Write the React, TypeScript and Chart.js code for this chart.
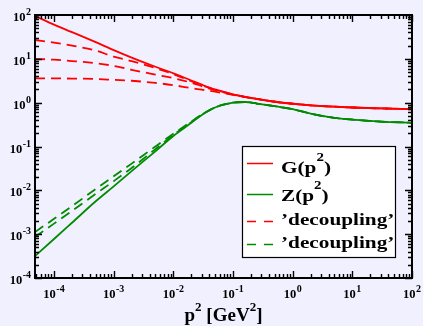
import React, { useEffect, useRef } from "react";
import { Chart, registerables } from "chart.js";

Chart.register(...registerables);

// momentum p^2 [GeV^2]
const P2 = [4.8e-5, 1e-4, 2e-4, 5e-4, 1e-3, 2e-3, 5e-3, 1e-2, 2e-2, 3e-2, 5e-2, 0.1, 0.16, 0.25, 0.5, 1, 2, 5, 10, 30, 100];

// ghost dressing function G(p^2), scaling solution
const G_SCALING = [95.5, 60.3, 40.7, 24.0, 15.8, 10.7, 6.6, 4.68, 3.2, 2.57, 2.0, 1.55, 1.35, 1.22, 1.05, 0.944, 0.87, 0.81, 0.776, 0.74, 0.708];
// gluon dressing function Z(p^2), scaling solution
const Z_SCALING = [3.16e-4, 7.76e-4, 1.82e-3, 5.62e-3, 1.23e-2, 2.75e-2, 7.76e-2, 0.174, 0.347, 0.525, 0.776, 1.0, 1.035, 0.955, 0.83, 0.71, 0.56, 0.45, 0.41, 0.37, 0.347];

// decoupling solutions, ghost
const G_DEC_1 = [26.9, 23.4, 20.0, 15.5, 11.2, 8.9, 6.17, 4.47, 3.09, 2.5, 1.98, 1.55, 1.35, 1.22, 1.05, 0.944, 0.87, 0.81, 0.776, 0.74, 0.708];
const G_DEC_2 = [10.0, 9.55, 8.91, 7.94, 6.92, 5.62, 4.37, 3.63, 2.85, 2.38, 1.92, 1.53, 1.35, 1.22, 1.05, 0.944, 0.87, 0.81, 0.776, 0.74, 0.708];
const G_DEC_3 = [3.6, 3.59, 3.55, 3.47, 3.31, 3.16, 2.82, 2.51, 2.14, 1.98, 1.78, 1.5, 1.33, 1.21, 1.05, 0.944, 0.87, 0.81, 0.776, 0.74, 0.708];
// decoupling solutions, gluon
const Z_DEC_1 = [1.12e-3, 2.24e-3, 4.37e-3, 1.07e-2, 2.09e-2, 4.07e-2, 0.1, 0.195, 0.37, 0.535, 0.78, 1.0, 1.035, 0.955, 0.83, 0.71, 0.56, 0.45, 0.41, 0.37, 0.347];
const Z_DEC_2 = [8.7e-4, 1.74e-3, 3.39e-3, 8.3e-3, 1.62e-2, 3.24e-2, 8.7e-2, 0.182, 0.36, 0.53, 0.778, 1.0, 1.035, 0.955, 0.83, 0.71, 0.56, 0.45, 0.41, 0.37, 0.347];

const X_TICKS = [1e-4, 1e-3, 1e-2, 1e-1, 1, 10, 100];
const X_TICK_EXP = ["-4", "-3", "-2", "-1", "0", "1", "2"];
const Y_TICKS = [1e-4, 1e-3, 1e-2, 1e-1, 1, 10, 100];
const Y_TICK_EXP = ["-4", "-3", "-2", "-1", "0", "1", "2"];

const LEGEND = [
  { base: "G(p", sup: "2", tail: ")", color: "#ff0000", dash: [] as number[] },
  { base: "Z(p", sup: "2", tail: ")", color: "#008b00", dash: [] as number[] },
  { base: "\u2019decoupling\u2019", sup: "", tail: "", color: "#ff0000", dash: [9, 8] },
  { base: "\u2019decoupling\u2019", sup: "", tail: "", color: "#008b00", dash: [9, 8] },
];

const BG = "#f0f0ff";
const RED = "#ff0000";
const GREEN = "#008b00";
const SERIF = "'Liberation Serif', 'Times New Roman', serif";

function powLabel(ctx: CanvasRenderingContext2D, exp: string, x: number, y: number, align: "right" | "center") {
  const fb = `bold 12.5px ${SERIF}`;
  const fe = `bold 10px ${SERIF}`;
  ctx.font = fb;
  const wb = ctx.measureText("10").width;
  ctx.font = fe;
  const we = ctx.measureText(exp).width;
  const total = wb + we + 0.5;
  const sx = align === "right" ? x - total : x - total / 2;
  ctx.textAlign = "left";
  ctx.textBaseline = "alphabetic";
  ctx.font = fb;
  ctx.fillText("10", sx, y);
  ctx.font = fe;
  ctx.fillText(exp, sx + wb + 0.5, y - 6);
}

const framePlugin = {
  id: "frameTicks",
  beforeDraw(chart: any) {
    const ctx = chart.ctx;
    ctx.save();
    ctx.fillStyle = BG;
    ctx.fillRect(0, 0, chart.width, chart.height);
    ctx.restore();
  },
  afterDatasetsDraw(chart: any) {
    const { ctx, chartArea: a } = chart;
    const xs = chart.scales.x;
    const ys = chart.scales.y;
    ctx.save();
    ctx.strokeStyle = "#000";
    ctx.fillStyle = "#000";
    ctx.lineWidth = 1.4;
    ctx.beginPath();
    const xDecades = [X_TICKS[0] / 10, ...X_TICKS];
    for (const base of xDecades) {
      for (let m = 1; m <= 9; m++) {
        const v = m * base;
        if (v < xs.min * 0.999 || v > xs.max * 1.001) continue;
        const px = Math.round(xs.getPixelForValue(v)) + 0.5;
        const len = m === 1 ? 7 : 4;
        ctx.moveTo(px, a.bottom);
        ctx.lineTo(px, a.bottom - len);
        ctx.moveTo(px, a.top);
        ctx.lineTo(px, a.top + len);
      }
    }
    for (const base of Y_TICKS) {
      for (let m = 1; m <= 9; m++) {
        const v = m * base;
        if (v < ys.min * 0.999 || v > ys.max * 1.001) continue;
        const py = Math.round(ys.getPixelForValue(v)) + 0.5;
        const len = m === 1 ? 7 : 4;
        ctx.moveTo(a.left, py);
        ctx.lineTo(a.left + len, py);
        ctx.moveTo(a.right, py);
        ctx.lineTo(a.right - len, py);
      }
    }
    ctx.stroke();
    ctx.lineWidth = 2;
    ctx.strokeRect(a.left, a.top, a.right - a.left, a.bottom - a.top);

    // tick labels
    for (let i = 0; i < X_TICKS.length; i++) {
      const px = xs.getPixelForValue(X_TICKS[i]);
      powLabel(ctx, X_TICK_EXP[i], px, a.bottom + 20, "center");
    }
    for (let i = 0; i < Y_TICKS.length; i++) {
      const py = ys.getPixelForValue(Y_TICKS[i]);
      powLabel(ctx, Y_TICK_EXP[i], 31, py + 6, "right");
    }

    // axis title p^2 [GeV^2]
    const ft = `bold 19px ${SERIF}`;
    const fs = `bold 13px ${SERIF}`;
    const parts = [
      { t: "p", f: ft, dy: 0 },
      { t: "2", f: fs, dy: -10 },
      { t: " [GeV", f: ft, dy: 0 },
      { t: "2", f: fs, dy: -10 },
      { t: "]", f: ft, dy: 0 },
    ];
    let tw = 0;
    for (const p of parts) {
      ctx.font = p.f;
      tw += ctx.measureText(p.t).width;
    }
    let cx = (a.left + a.right) / 2 - tw / 2;
    ctx.textAlign = "left";
    for (const p of parts) {
      ctx.font = p.f;
      ctx.fillText(p.t, cx, 321 + p.dy);
      cx += ctx.measureText(p.t).width;
    }

    // legend box
    const bx = 242, by = 146, bw = 153, bh = 111;
    ctx.fillStyle = "#ffffff";
    ctx.fillRect(bx, by, bw, bh);
    ctx.strokeStyle = "#000";
    ctx.lineWidth = 1.2;
    ctx.strokeRect(bx + 0.5, by + 0.5, bw, bh);
    const lineY = [163.5, 194.5, 221.5, 244.5];
    const baseY = [173, 201, 225, 248];
    const sx = 1.25;
    LEGEND.forEach((e, i) => {
      ctx.strokeStyle = e.color;
      ctx.lineWidth = 1.5;
      ctx.setLineDash(e.dash);
      ctx.beginPath();
      ctx.moveTo(247, lineY[i]);
      ctx.lineTo(273, lineY[i]);
      ctx.stroke();
      ctx.setLineDash([]);
      ctx.fillStyle = "#000";
      ctx.save();
      ctx.translate(281, baseY[i]);
      ctx.scale(sx, 1);
      let ox = 0;
      ctx.font = `bold 17px ${SERIF}`;
      ctx.fillText(e.base, ox, 0);
      ox += ctx.measureText(e.base).width;
      if (e.sup) {
        ctx.font = `bold 12px ${SERIF}`;
        ctx.fillText(e.sup, ox, -12);
        ox += ctx.measureText(e.sup).width;
        ctx.font = `bold 17px ${SERIF}`;
        ctx.fillText(e.tail, ox, 0);
      }
      ctx.restore();
    });
    ctx.restore();
  },
};

function mk(label: string, data: number[], color: string, dashed: boolean) {
  return {
    label,
    data: P2.map((x, i) => ({ x, y: data[i] })),
    borderColor: color,
    backgroundColor: color,
    borderWidth: 1.8,
    borderDash: dashed ? [10, 6] : [],
    pointRadius: 0,
    fill: false,
    cubicInterpolationMode: "monotone" as const,
  };
}

export default function App() {
  const ref = useRef<HTMLCanvasElement | null>(null);
  useEffect(() => {
    if (!ref.current) return;
    const chart = new Chart(ref.current, {
      type: "line",
      data: {
        datasets: [
          mk("G(p²)", G_SCALING, RED, false),
          mk("Z(p²)", Z_SCALING, GREEN, false),
          mk("decoupling G1", G_DEC_1, RED, true),
          mk("decoupling G2", G_DEC_2, RED, true),
          mk("decoupling G3", G_DEC_3, RED, true),
          mk("decoupling Z1", Z_DEC_1, GREEN, true),
          mk("decoupling Z2", Z_DEC_2, GREEN, true),
        ],
      },
      options: {
        responsive: false,
        animation: false,
        devicePixelRatio: 1,
        layout: { padding: { left: 35, top: 15, right: 11, bottom: 48 } },
        plugins: { legend: { display: false }, tooltip: { enabled: false } },
        scales: {
          x: { type: "logarithmic", min: 4.8e-5, max: 100, display: false },
          y: { type: "logarithmic", min: 1e-4, max: 100, display: false },
        },
      },
      plugins: [framePlugin],
    });
    return () => chart.destroy();
  }, []);
  return (
    <div style={{ position: "fixed", left: 0, top: 0, width: 423, height: 326, background: BG }}>
      <canvas ref={ref} width={423} height={326} style={{ display: "block" }} />
    </div>
  );
}
